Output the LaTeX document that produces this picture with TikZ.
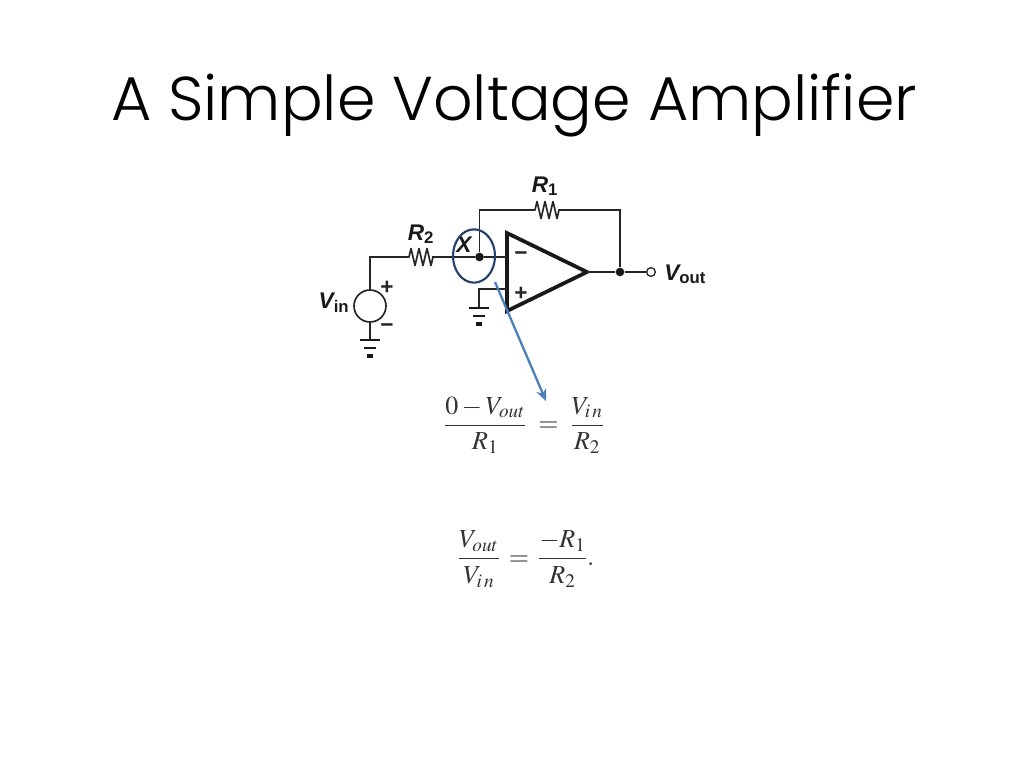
\documentclass[tikz,border=0pt]{standalone}
\usepackage[no-math]{fontspec}
\usepackage{mathptmx}
\usepackage{amsmath}
\setmainfont{Liberation Sans}
\newfontfamily\titlefont{Poppins Light}[]
\usetikzlibrary{shapes.geometric, arrows.meta, positioning}
\definecolor{ringblue}{HTML}{24406E}
\definecolor{arrowblue}{HTML}{4A7EBB}
\tikzset{
    wire/.style={line width=1.25pt, black!85},
    dot/.style={circle, fill=black!90, inner sep=0pt, minimum size=6.5pt},
    opendot/.style={circle, draw=black!85, fill=white, line width=1pt, inner sep=0pt, minimum size=6.5pt},
    lab/.style={font=\fontsize{17}{17}\selectfont\bfseries\itshape, inner sep=0pt, black!90},
    sign/.style={font=\fontsize{17}{17}\selectfont\bfseries, inner sep=0pt, black!85},
    eqn/.style={font=\fontsize{19.5}{23}\selectfont, inner sep=0pt, black!80},
    gndbar/.style={line width=2pt, black!90},
    pics/resistor/.style={code={
        \draw[wire, line join=round] (0,0) -- (2,0) -- ++(2,-8.5) -- ++(4,17) -- ++(4,-17) -- ++(4,17) -- ++(4,-17) -- ++(4,17) -- ++(2,-8.5) -- (25,0);
    }},
    pics/ground/.style={code={
        \draw[gndbar] (-10,0) -- (10,0);
        \draw[gndbar] (-6,8) -- (6,8);
        \draw[gndbar, line width=2.6pt] (-3,16) -- (3,16);
    }},
}
\begin{document}
\begin{tikzpicture}[x=0.75pt, y=-0.75pt, >={Stealth[length=9pt,width=8pt]}]
    \useasboundingbox (0,0) rectangle (1024,768);
    \node[font=\fontsize{46.4}{46.4}\selectfont\titlefont, inner sep=0pt, anchor=base] (title) at (514,120) {A Simple Voltage Amplifier};

    % amplifier
    \coordinate (opa) at (507,233);
    \coordinate (opb) at (507,311);
    \coordinate (opc) at (587,272);
    \draw[line width=2.8pt, black!90, line join=miter] (opa) -- (opc) -- (opb) -- cycle;
    \node[sign] (minus) at (521,256) {−};
    \node[sign] (plus) at (521,294) {+};

    % inverting node and feedback
    \node[dot] (x) at (479.5,257) {};
    \node[dot] (out) at (620,272) {};
    \node[opendot] (term) at (651,272) {};
    \coordinate (minusin) at (507,257);
    \coordinate (plusin) at (507,289);
    \coordinate (r1a) at (533,210);
    \coordinate (r1b) at (558,210);
    \coordinate (r2a) at (407,257);
    \coordinate (r2b) at (432,257);
    \pic at (r1a) {resistor};
    \pic at (r2a) {resistor};
    \draw[wire] (x) |- (r1a);
    \draw[wire] (r1b) -| (out);
    \draw[wire] (r2b) -- (x);
    \draw[wire] (x) -- (minusin);
    \draw[wire] (opc) -- (out);
    \draw[wire] (out) -- (term);

    % source
    \node[circle, draw=black!85, line width=1.25pt, minimum size=24pt, inner sep=0pt] (src) at (370,306) {};
    \coordinate (gnda) at (370,340);
    \coordinate (gndb) at (479,308);
    \draw[wire] (src.north) |- (r2a);
    \draw[wire] (src.south) -- (gnda);
    \draw[wire] (plusin) -| (gndb);
    \pic at (gnda) {ground};
    \pic at (gndb) {ground};
    \node[sign] (srcplus) at (387,288) {+};
    \node[sign] (srcminus) at (387,328) {−};

    % labels
    \node[lab, anchor=base] (lr1) at (545,192) {R\textsubscript{\upshape 1}};
    \node[lab, anchor=base] (lr2) at (421,240) {R\textsubscript{\upshape 2}};
    \node[lab, anchor=base] (lx) at (464,252) {X};
    \node[lab, anchor=base] (lvin) at (334,308) {V\textsubscript{\upshape in}};
    \node[lab, anchor=base west] (lvout) at (664,280) {V\textsubscript{\upshape out}};

    % circled node and arrow
    \node[ellipse, draw=ringblue, line width=1.6pt, minimum width=31.5pt, minimum height=40pt, inner sep=0pt] (ring) at (474,256) {};
    \coordinate (arrowtail) at (495,282);
    \coordinate (arrowhead) at (546,401);
    \draw[->, arrowblue, line width=1.7pt] (arrowtail) -- (arrowhead);

    % equations
    \node[eqn] (eqa) at (524,425) {$\dfrac{0-V_{out}}{R_1}\;=\;\dfrac{V_{i\,n}}{R_2}$};
    \node[eqn] (eqb) at (526,559) {$\dfrac{V_{out}}{V_{i\,n}}\,=\,\dfrac{-R_1}{R_2}.$};
\end{tikzpicture}
\end{document}
